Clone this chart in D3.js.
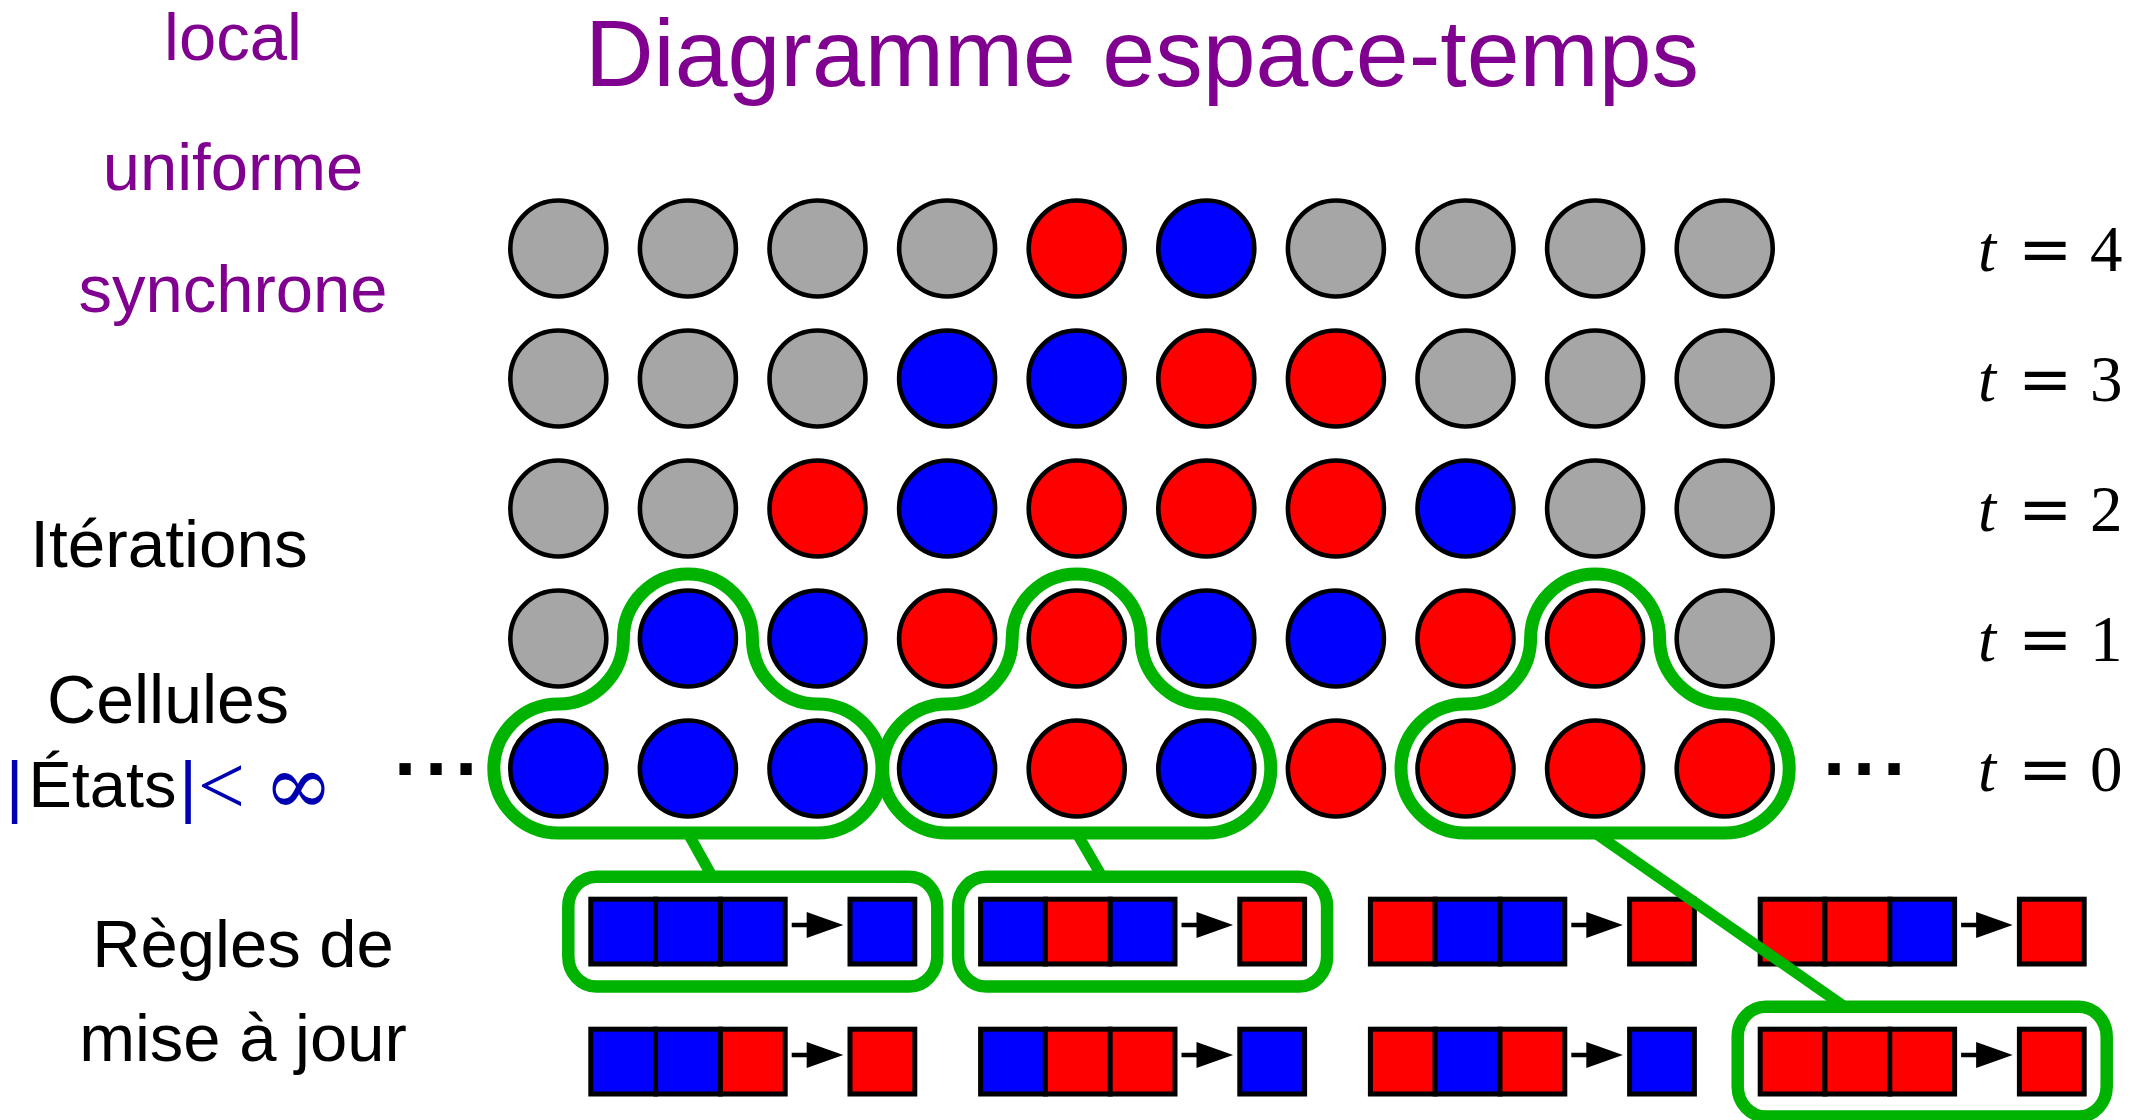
<!DOCTYPE html>
<html>
<head>
<meta charset="utf-8">
<script src="https://cdn.jsdelivr.net/npm/d3@7"></script>
<style>
  html, body { margin: 0; padding: 0; background: #ffffff; }
  svg { display: block; }
</style>
</head>
<body>
<script>
// ---------------- DATA ----------------
const gen0 = ["B","B","B","B","R","B","R","R","R","R"];
const gen1 = ["G","B","B","R","R","B","B","R","R","G"];
const gen2 = ["G","G","R","B","R","R","R","B","G","G"];
const gen3 = ["G","G","G","B","B","R","R","G","G","G"];
const gen4 = ["G","G","G","G","R","B","G","G","G","G"];
const generations = [gen0, gen1, gen2, gen3, gen4];
const timeValues = ["0", "1", "2", "3", "4"];

const ruleInputs = [
  ["B","B","B"], ["B","R","B"], ["R","B","B"], ["R","R","B"],
  ["B","B","R"], ["B","R","R"], ["R","B","R"], ["R","R","R"]
];
const ruleOutputs = ["B","R","R","R","R","B","B","R"];

const highlightCenters = [1, 4, 8];   // column of the t=1 cell in each neighbourhood
const highlightRules = [0, 1, 7];     // rule applied by each neighbourhood

const title = "Diagramme espace-temps";
const propertyLabels = ["local", "uniforme", "synchrone"];
const iterLabel = "Itérations";
const cellLabel = "Cellules";
const statesWord = "États";
const rulesLabels = ["Règles de", "mise à jour"];

// ---------------- STYLE ----------------
const W = 2147, H = 1120;
const colors = { G: "#a6a6a6", B: "#0000ff", R: "#ff0000" };
const purple = "#80008f";
const green = "#00b300";
const navy = "#0000b3";
const sans = "'Liberation Sans', Arial, Helvetica, sans-serif";
const serif = "'Liberation Serif', 'Times New Roman', serif";

const svg = d3.select("body").append("svg")
  .attr("width", W).attr("height", H)
  .attr("viewBox", `0 0 ${W} ${H}`);

// scales
const x = d3.scaleLinear().domain([0, 9]).range([558.3, 558.3 + 9 * 129.6]);
const y = d3.scaleLinear().domain([0, 4]).range([768.5, 248.5]);
const ruleX = d3.scaleLinear().domain([0, 3]).range([588.3, 1757.7]);
const ruleY = d3.scaleLinear().domain([0, 1]).range([896.7, 1026.7]);

// ---------------- TEXTS ----------------
svg.append("text").attr("x", 1142).attr("y", 86)
  .attr("text-anchor", "middle").attr("font-family", sans).attr("font-size", 95)
  .attr("fill", purple).text(title);

const propY = [60, 190, 311.5];
svg.selectAll("text.prop").data(propertyLabels).enter().append("text")
  .attr("class", "prop")
  .attr("x", 233).attr("y", (d, i) => propY[i])
  .attr("text-anchor", "middle").attr("font-family", sans).attr("font-size", 67)
  .attr("fill", purple).text(d => d);

svg.append("text").attr("x", 169).attr("y", 567)
  .attr("text-anchor", "middle").attr("font-family", sans).attr("font-size", 67.5)
  .attr("fill", "#000").text(iterLabel);

svg.append("text").attr("x", 168).attr("y", 723)
  .attr("text-anchor", "middle").attr("font-family", sans).attr("font-size", 68)
  .attr("fill", "#000").text(cellLabel);

// |États| < ∞
svg.append("text").attr("x", 14.5).attr("y", 810).attr("text-anchor", "middle")
  .attr("font-family", sans).attr("font-size", 68).attr("fill", navy).text("|");
svg.append("text").attr("x", 28.5).attr("y", 806.7)
  .attr("font-family", sans).attr("font-size", 65).attr("fill", "#000")
  .attr("textLength", 148).attr("lengthAdjust", "spacingAndGlyphs").text(statesWord);
svg.append("text").attr("x", 188).attr("y", 810).attr("text-anchor", "middle")
  .attr("font-family", sans).attr("font-size", 68).attr("fill", navy).text("|");
svg.append("text").attr("x", 221.5).attr("y", 814).attr("text-anchor", "middle")
  .attr("font-family", serif).attr("font-size", 84).attr("fill", navy).text("<");
svg.append("text").attr("x", 298.5).attr("y", 814).attr("text-anchor", "middle")
  .attr("font-family", "'DejaVu Serif', serif").attr("font-size", 84).attr("fill", navy).text("∞");

const rulesY = [967, 1061];
svg.selectAll("text.rl").data(rulesLabels).enter().append("text")
  .attr("class", "rl")
  .attr("x", 243).attr("y", (d, i) => rulesY[i])
  .attr("text-anchor", "middle").attr("font-family", sans).attr("font-size", 67)
  .attr("fill", "#000").text(d => d);

// dots (\cdots) left and right of row t=0
const dotsLeft = [405, 436, 466], dotsRight = [1834, 1864, 1894];
[dotsLeft, dotsRight].forEach(arr => {
  const t = svg.append("text").attr("y", y(0) + 6).attr("font-family", sans)
    .attr("font-size", 80).attr("font-weight", "bold").attr("fill", "#000")
    .attr("text-anchor", "middle");
  arr.forEach(px => t.append("tspan").attr("x", px).text("."));
});

// time labels
timeValues.forEach((v, i) => {
  const base = y(i) + 22;
  const g = svg.append("text").attr("y", base).attr("font-size", 65).attr("fill", "#000");
  g.append("tspan").attr("x", 1978).attr("font-family", serif).attr("font-style", "italic").text("t");
  g.append("tspan").attr("x", 2018).attr("font-family", "'DejaVu Serif', serif").text("=");
  g.append("tspan").attr("x", 2090).attr("font-family", serif).text(v);
});

// ---------------- CELLS ----------------
const cells = [];
generations.forEach((gen, t) => gen.forEach((s, c) => cells.push({ t, c, s })));
svg.append("g").selectAll("circle").data(cells).enter().append("circle")
  .attr("cx", d => x(d.c)).attr("cy", d => y(d.t)).attr("r", 48)
  .attr("fill", d => colors[d.s]).attr("stroke", "#000").attr("stroke-width", 4.6);

// ---------------- NEIGHBOURHOOD BLOBS ----------------
const d = 64.5;
function blobPath(c) {
  const c0 = x(c - 1), c1 = x(c), c2 = x(c + 1);
  const y0 = y(0), y1 = y(1);
  const rx = (c2 - c1) - d, ry = (y0 - y1) - d;
  return `M${c0},${y0 + d} L${c2},${y0 + d}
    A${d},${d} 0 0 0 ${c2 + d},${y0}
    A${d},${d} 0 0 0 ${c2},${y0 - d}
    A${rx},${ry} 0 0 1 ${c1 + d},${y1}
    A${d},${d} 0 0 0 ${c1 - d},${y1}
    A${rx},${ry} 0 0 1 ${c0},${y0 - d}
    A${d},${d} 0 0 0 ${c0 - d},${y0}
    A${d},${d} 0 0 0 ${c0},${y0 + d} Z`;
}
svg.append("g").selectAll("path").data(highlightCenters).enter().append("path")
  .attr("d", c => blobPath(c)).attr("fill", "none")
  .attr("stroke", green).attr("stroke-width", 13);

// ---------------- RULES ----------------
const cw = 64.8, sw = 5;
const ruleOuterW = 5 * cw + sw, ruleOuterH = cw + sw;
const rg = svg.append("g");
ruleInputs.forEach((inp, i) => {
  const left = ruleX(i % 4), top = ruleY(Math.floor(i / 4));
  const g = rg.append("g");
  g.selectAll("rect.in").data(inp).enter().append("rect")
    .attr("x", (s, k) => left + sw / 2 + k * cw).attr("y", top + sw / 2)
    .attr("width", cw).attr("height", cw)
    .attr("fill", s => colors[s]).attr("stroke", "#000").attr("stroke-width", sw);
  g.append("rect")
    .attr("x", left + sw / 2 + 4 * cw).attr("y", top + sw / 2)
    .attr("width", cw).attr("height", cw)
    .attr("fill", colors[ruleOutputs[i]]).attr("stroke", "#000").attr("stroke-width", sw);
  const ay = top + 28.3;
  g.append("line").attr("x1", left + 203.4).attr("x2", left + 221)
    .attr("y1", ay).attr("y2", ay).attr("stroke", "#000").attr("stroke-width", 4.5);
  g.append("path")
    .attr("d", `M${left + 218.4},${ay - 13} L${left + 255},${ay} L${left + 218.4},${ay + 13} Z`)
    .attr("fill", "#000");
});

// highlight boxes around applied rules
const pad = 20;
svg.append("g").selectAll("rect").data(highlightRules).enter().append("rect")
  .attr("x", r => ruleX(r % 4) - pad).attr("y", r => ruleY(Math.floor(r / 4)) - pad)
  .attr("width", ruleOuterW + 2 * pad).attr("height", ruleOuterH + 2 * pad)
  .attr("rx", 28).attr("ry", 30)
  .attr("fill", "none").attr("stroke", green).attr("stroke-width", 12.5);

// connectors
const endOffsets = [124, 124, 87];
highlightCenters.forEach((c, k) => {
  const r = highlightRules[k];
  svg.append("line")
    .attr("x1", x(c)).attr("y1", y(0) + d)
    .attr("x2", ruleX(r % 4) + endOffsets[k]).attr("y2", ruleY(Math.floor(r / 4)) - pad)
    .attr("stroke", green).attr("stroke-width", 11);
});
</script>
</body>
</html>
